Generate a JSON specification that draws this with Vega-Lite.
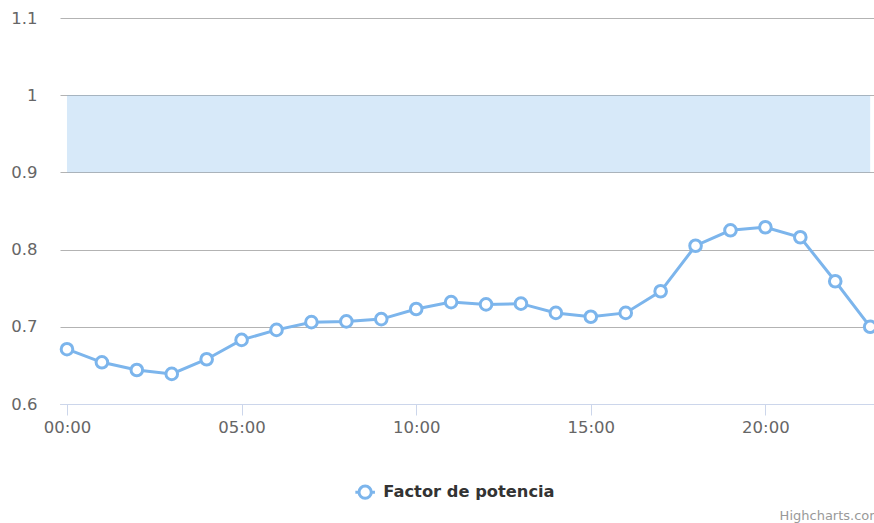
{
  "$schema": "https://vega.github.io/schema/vega-lite/v6.json",
  "autosize": "none",
  "width": 814,
  "height": 386,
  "padding": {"left": 60, "top": 18, "right": 0, "bottom": 119},
  "background": "white",
  "config": {
    "view": {"stroke": null},
    "font": "DejaVu Sans"
  },
  "title": {
    "text": "Highcharts.com",
    "orient": "bottom",
    "anchor": "end",
    "fontSize": 13,
    "fontWeight": "normal",
    "color": "#999999",
    "font": "DejaVu Sans",
    "offset": 5
  },
  "datasets": {
    "band": [{"x0": 0, "x1": 23, "lo": 0.9, "hi": 1.0}],
    "fp": [
      {"hour": 0, "value": 0.671, "serie": "Factor de potencia"},
      {"hour": 1, "value": 0.654, "serie": "Factor de potencia"},
      {"hour": 2, "value": 0.644, "serie": "Factor de potencia"},
      {"hour": 3, "value": 0.639, "serie": "Factor de potencia"},
      {"hour": 4, "value": 0.658, "serie": "Factor de potencia"},
      {"hour": 5, "value": 0.683, "serie": "Factor de potencia"},
      {"hour": 6, "value": 0.696, "serie": "Factor de potencia"},
      {"hour": 7, "value": 0.706, "serie": "Factor de potencia"},
      {"hour": 8, "value": 0.707, "serie": "Factor de potencia"},
      {"hour": 9, "value": 0.710, "serie": "Factor de potencia"},
      {"hour": 10, "value": 0.723, "serie": "Factor de potencia"},
      {"hour": 11, "value": 0.732, "serie": "Factor de potencia"},
      {"hour": 12, "value": 0.729, "serie": "Factor de potencia"},
      {"hour": 13, "value": 0.730, "serie": "Factor de potencia"},
      {"hour": 14, "value": 0.718, "serie": "Factor de potencia"},
      {"hour": 15, "value": 0.713, "serie": "Factor de potencia"},
      {"hour": 16, "value": 0.718, "serie": "Factor de potencia"},
      {"hour": 17, "value": 0.746, "serie": "Factor de potencia"},
      {"hour": 18, "value": 0.805, "serie": "Factor de potencia"},
      {"hour": 19, "value": 0.825, "serie": "Factor de potencia"},
      {"hour": 20, "value": 0.829, "serie": "Factor de potencia"},
      {"hour": 21, "value": 0.816, "serie": "Factor de potencia"},
      {"hour": 22, "value": 0.759, "serie": "Factor de potencia"},
      {"hour": 23, "value": 0.700, "serie": "Factor de potencia"}
    ]
  },
  "resolve": {"scale": {"x": "shared", "y": "shared"}},
  "layer": [
    {
      "data": {"name": "band"},
      "mark": {"type": "rect", "fill": "#7cb5ec", "opacity": 0.3},
      "encoding": {
        "x": {"field": "x0", "type": "quantitative", "scale": {"domain": [-0.2, 23.11], "nice": false, "zero": false}, "axis": {
          "values": [0, 5, 10, 15, 20],
          "labelExpr": "(datum.value < 10 ? '0' : '') + datum.value + ':00'",
          "title": null,
          "grid": false,
          "domainColor": "#ccd6eb",
          "domainWidth": 1,
          "tickColor": "#ccd6eb",
          "tickSize": 11,
          "tickWidth": 1,
          "labelFontSize": 16.5,
          "labelColor": "#666666",
          "labelPadding": 4,
          "labelFont": "DejaVu Sans"
        }},
        "x2": {"field": "x1"},
        "y": {"field": "lo", "type": "quantitative", "scale": {"domain": [0.6, 1.1], "nice": false, "zero": false}, "axis": {
          "values": [0.6, 0.7, 0.8, 0.9, 1.0, 1.1],
          "format": "~g",
          "title": null,
          "domain": false,
          "ticks": false,
          "grid": true,
          "gridColor": "#b3b3b3",
          "gridWidth": 1,
          "labelFontSize": 16.5,
          "labelColor": "#666666",
          "labelPadding": 23,
          "labelFont": "DejaVu Sans"
        }},
        "y2": {"field": "hi"}
      }
    },
    {
      "data": {"name": "fp"},
      "mark": {"type": "line", "strokeWidth": 3, "clip": false},
      "encoding": {
        "x": {"field": "hour", "type": "quantitative"},
        "y": {"field": "value", "type": "quantitative"},
        "color": {"field": "serie", "type": "nominal", "scale": {"range": ["#7cb5ec"]}, "legend": {
          "title": null,
          "orient": "none",
          "legendX": 297,
          "legendY": 466,
          "symbolType": "M-1.6,0L-1,0M1,0L1.6,0M-1,0A1,1 0 1,1 1,0A1,1 0 1,1 -1,0Z",
          "symbolSize": 150,
          "symbolStrokeWidth": 3,
          "symbolFillColor": "white",
          "symbolStrokeColor": "#7cb5ec",
          "labelFontSize": 16.3,
          "labelFontWeight": "bold",
          "labelColor": "#333333",
          "labelFont": "DejaVu Sans",
          "labelLimit": 0,
          "labelOffset": 10
        }}
      }
    },
    {
      "data": {"name": "fp"},
      "mark": {"type": "point", "shape": "circle", "filled": true, "fill": "white", "stroke": "#7cb5ec", "strokeWidth": 3, "size": 135, "opacity": 1, "clip": false},
      "encoding": {
        "x": {"field": "hour", "type": "quantitative"},
        "y": {"field": "value", "type": "quantitative"}
      }
    }
  ]
}
